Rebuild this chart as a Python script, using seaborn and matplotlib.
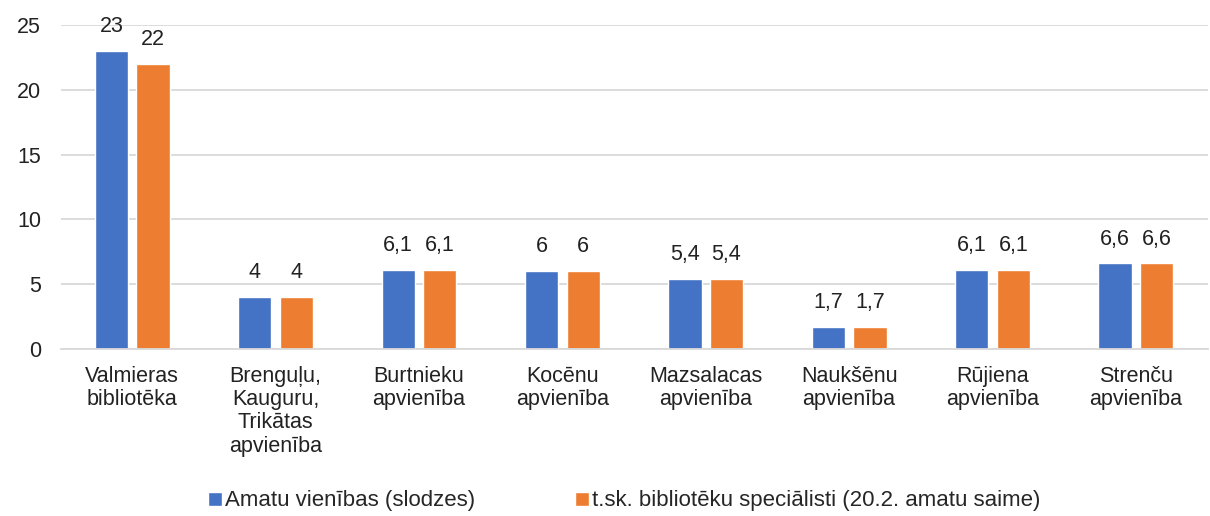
import matplotlib
matplotlib.use("Agg")
import matplotlib.pyplot as plt
import pandas as pd
import seaborn as sns

# Category labels and the two series
categories = [
    "Valmieras\nbibliotēka",
    "Brenguļu,\nKauguru,\nTrikātas\napvienība",
    "Burtnieku\napvienība",
    "Kocēnu\napvienība",
    "Mazsalacas\napvienība",
    "Naukšēnu\napvienība",
    "Rūjiena\napvienība",
    "Strenču\napvienība",
]
amatu_vienibas = [23, 4, 6.1, 6, 5.4, 1.7, 6.1, 6.6]
bibl_specialisti = [22, 4, 6.1, 6, 5.4, 1.7, 6.1, 6.6]
series_names = ["Amatu vienības (slodzes)",
                "t.sk. bibliotēku speciālisti (20.2. amatu saime)"]

df = pd.DataFrame({
    "kategorija": categories * 2,
    "vertiba": amatu_vienibas + bibl_specialisti,
    "serija": [series_names[0]] * len(categories) + [series_names[1]] * len(categories),
})

sns.set_theme(style="white")
plt.rcParams["font.family"] = ["Liberation Sans", "DejaVu Sans"]

fig = plt.figure(figsize=(12.1, 5.16), dpi=100)
ax = fig.add_axes([0.05, 0.3236, 0.948, 0.628])

sns.barplot(data=df, x="kategorija", y="vertiba", hue="serija",
            palette=["#4472C4", "#ED7D31"], width=0.58, gap=0.2,
            saturation=1, ax=ax, legend=True)

ax.set_ylim(0, 25)
ax.set_yticks(range(0, 26, 5))
ax.yaxis.grid(True, color="#d9d9d9", linewidth=1.3)
ax.set_axisbelow(True)
for s in ["top", "right", "left"]:
    ax.spines[s].set_visible(False)
ax.spines["bottom"].set_color("#d9d9d9")
ax.spines["bottom"].set_linewidth(1.3)
ax.tick_params(axis="both", length=0, labelsize=15.5, colors="#222222")
ax.tick_params(axis="x", pad=12)
ax.tick_params(axis="y", pad=14)
ax.set_xlabel("")
ax.set_ylabel("")
ax.set_xlim(-0.5, len(categories) - 0.5)
plt.setp(ax.get_xticklabels(), linespacing=1.15)

def fmt(v):
    s = f"{v:g}"
    return s.replace(".", ",")

for cont in ax.containers:
    ax.bar_label(cont, labels=[fmt(b.get_height()) for b in cont],
                 padding=10, fontsize=15.5, color="#222222")

ax.get_legend().remove()
handles, labels = ax.get_legend_handles_labels()
fig.legend(handles, labels, loc="lower center", bbox_to_anchor=(0.516, -0.03),
           ncol=2, frameon=False, fontsize=16, handlelength=0.6,
           handleheight=0.6, handletextpad=0.15, columnspacing=4.5)

fig.savefig("out.png", dpi=100)
